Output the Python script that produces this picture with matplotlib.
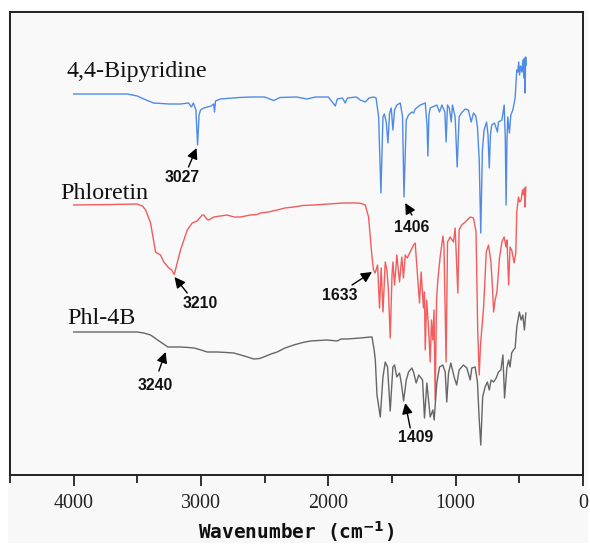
import matplotlib
matplotlib.use("Agg")
import matplotlib.pyplot as plt
from matplotlib.patches import Rectangle
from matplotlib.ticker import MultipleLocator

# ---- FTIR spectra (wavenumber in cm-1, stacked transmittance in a.u.) ----
bpy_wn = [4000, 3580, 3500, 3450, 3373, 3250, 3161, 3098, 3075, 3060, 3040, 3027, 3015,
          3004, 2978, 2920, 2900, 2894, 2886, 2847, 2800, 2700, 2600, 2500, 2429, 2380,
          2250, 2167, 2100, 2000, 1945, 1930, 1890, 1867, 1850, 1780, 1749, 1710, 1680,
          1645, 1625, 1605, 1587, 1571, 1560, 1545, 1532, 1519, 1506, 1493, 1480, 1462,
          1435, 1417, 1406, 1388, 1370, 1344, 1330, 1318, 1278, 1239, 1225, 1218, 1210,
          1200, 1148, 1127, 1108, 1085, 1075, 1064, 1050, 1035, 1025, 1004, 988, 973,
          955, 925, 900, 878, 860, 842, 829, 815, 803, 790, 777, 757, 746, 736, 727,
          717, 695, 672, 664, 637, 619, 610, 604, 597, 591, 578, 567, 551, 533, 520,
          512, 505, 498, 490, 480, 472, 465, 460, 455, 450, 447]
bpy_t = [381, 381, 379, 376, 372, 371, 371, 372, 368, 372, 365, 330, 360,
         365, 367, 369, 371, 363, 374, 376, 376.5, 377.5, 378, 378, 374.5, 377.5,
         378, 376, 378, 378, 369, 376, 377, 372, 377, 378, 375, 373, 377,
         378, 377, 358, 282, 358, 361, 353, 332, 362, 367, 345, 365, 370,
         372, 358, 278, 355, 360, 363, 362, 366, 370, 372, 350, 319, 360,
         367, 370, 363, 370, 363, 333, 370, 367, 353, 370, 358, 308, 358,
         362, 366, 365, 353, 362, 359, 348, 315, 242, 325, 345, 353, 340, 307, 340,
         350, 352, 343, 353, 355, 370, 335, 270, 335, 358, 342, 360, 365, 377, 405,
         403, 413, 400, 409, 403, 415, 397, 417, 382, 418, 410]

phl_wn = [4000, 3700, 3502, 3460, 3435, 3396, 3357, 3330, 3318, 3292, 3253, 3230, 3210,
          3161, 3108, 3069, 3030, 2990, 2978, 2955, 2939, 2900, 2850, 2795, 2740, 2690,
          2612, 2560, 2533, 2470, 2402, 2340, 2272, 2200, 2115, 2000, 1880, 1830, 1775,
          1740, 1710, 1684, 1657, 1645, 1633, 1620, 1613, 1598, 1585, 1571, 1553, 1540,
          1528, 1514, 1500, 1493, 1480, 1462, 1441, 1423, 1410, 1396, 1380, 1357, 1331,
          1318, 1300, 1284, 1271, 1253, 1245, 1239, 1228, 1212, 1200, 1190, 1180, 1170,
          1161, 1150, 1140, 1122, 1100, 1092, 1075, 1064, 1043, 1017, 1004, 983, 973,
          953, 925, 886, 860, 840, 827, 815, 805, 795, 781, 770, 760, 742, 723, 710,
          702, 690, 676, 656, 637, 619, 605, 597, 584, 573, 560, 541, 528, 520, 507,
          497, 486, 475, 468, 460, 455, 449]
phl_t = [270, 270.5, 271, 269, 265, 252, 223, 221, 220, 213, 207, 205, 200.5,
         225, 245, 252, 254, 260, 260, 256, 255, 258, 259, 260, 258, 258,
         260, 260.5, 262, 263, 265, 267, 268, 269.5, 270, 271, 272, 272, 272,
         271.5, 270, 258, 218, 205, 202, 207, 210, 167, 207, 163, 213, 205,
         185, 137, 200, 213, 190, 220, 193, 218, 197, 220, 217, 223, 230,
         232, 200, 172, 203, 167, 183, 125, 175, 145, 113, 155, 135, 165,
         75, 175, 195, 218, 239, 230, 113, 233, 238, 233, 247, 182, 245,
         250, 253, 258, 257, 243, 145, 100, 130, 145, 167, 195, 223, 230, 213, 185,
         163, 175, 183, 217, 233, 238, 228, 235, 190, 228, 225, 212, 222, 263, 278,
         273, 275, 285, 280, 287, 268, 288]

cpx_wn = [4000, 3502, 3450, 3396, 3318, 3260, 3240, 3200, 3161, 3100, 3055, 3000, 2951,
          2873, 2800, 2743, 2660, 2586, 2540, 2508, 2450, 2402, 2340, 2272, 2200, 2141,
          2010, 1932, 1900, 1853, 1800, 1749, 1671, 1657, 1640, 1631, 1618, 1592, 1571,
          1553, 1535, 1514, 1493, 1480, 1462, 1441, 1427, 1409, 1388, 1370, 1344, 1331,
          1310, 1290, 1278, 1260, 1245, 1226, 1200, 1179, 1169, 1148, 1127, 1101, 1082,
          1070, 1056, 1038, 1012, 992, 973, 939, 912, 886, 873, 847, 829, 816, 803,
          788, 769, 751, 736, 722, 702, 682, 664, 645, 629, 616, 598, 584, 573, 560,
          546, 533, 520, 500, 486, 473, 460, 449]
cpx_t = [143, 143, 142, 140, 133, 128, 128, 128, 128, 127.5, 127, 125, 123,
         123, 122.5, 122, 119, 116, 116.5, 118, 121, 123, 127, 130, 132.5, 134,
         135, 134, 136, 136, 136.5, 137, 138, 138, 125, 115, 80, 58, 98,
         113, 108, 64, 108, 110, 98, 102, 92, 74, 95, 103, 107, 103,
         92, 100, 98, 95, 57, 92, 58, 65, 55, 92, 108, 110, 103,
         73, 102, 112, 98, 90, 105, 110, 107, 95, 107, 108, 93, 58, 30,
         78, 88, 93, 85, 95, 93, 97, 103, 105, 120, 77, 107, 115, 108, 122,
         125, 127, 148, 163, 155, 160, 145, 162]

series_names = ["4,4-Bipyridine", "Phloretin", "Phl-4B"]
series_colors = ["#4f8be6", "#f25c5c", "#666666"]

# peak callouts: (label, arrow tip, arrow tail, text position) in data units
peak_labels = ["3027", "3210", "3240", "1406", "1633", "1409"]
peak_tips = [(3035, 327), (3208, 198), (3278, 123), (1396, 272), (1657, 203), (1396, 72)]
peak_tails = [(3098, 308), (3108, 182), (3331, 104), (1344, 260), (1814, 190), (1357, 47)]
peak_text = [(3145, 297), (3010, 172), (3357, 90), (1344, 248), (1911, 180), (1318, 38)]

name_pos = [(4055, 398), (4102, 275.7), (4047, 151)]

x_ticks = [4000, 3000, 2000, 1000, 0]

# ---- figure ----
W, H = 590, 546
fig = plt.figure(figsize=(W / 100, H / 100), dpi=100, facecolor="white")
fig.patches.append(Rectangle((8 / W, 1 - 543 / H), (588 - 8) / W, (543 - 10) / H,
                             transform=fig.transFigure, facecolor="#f8f8f8",
                             edgecolor="none", zorder=-10))
ax = fig.add_axes([10 / W, 1 - 475 / H, (583 - 10) / W, (475 - 12) / H])
ax.set_facecolor("#f9f9f9")

for wn, t, c in zip([bpy_wn, phl_wn, cpx_wn], [bpy_t, phl_t, cpx_t], series_colors):
    ax.plot(wn, t, color=c, lw=1.0, solid_joinstyle="round")

serif = ["Liberation Serif", "DejaVu Serif"]
for name, (x, y) in zip(series_names, name_pos):
    ax.text(x, y, name, family=serif, fontsize=17.3, ha="left", va="baseline",
            color="#111111")

for lab, tip, tail, tpos in zip(peak_labels, peak_tips, peak_tails, peak_text):
    ax.annotate("", xy=tip, xytext=tail,
                arrowprops=dict(arrowstyle="-|>", color="black", lw=1.0,
                                mutation_scale=16, shrinkA=0, shrinkB=0))
    ax.text(tpos[0], tpos[1], lab, family=["Liberation Sans", "DejaVu Sans"],
            fontsize=11.3, fontweight="bold", ha="center", va="center",
            color="#111111")

ax.set_xlim(4500, 0)
ax.set_ylim(0, 463)
ax.set_xticks(x_ticks)
ax.xaxis.set_minor_locator(MultipleLocator(500))
ax.set_xticklabels([str(v) for v in x_ticks], family=serif, fontsize=14.4)
ax.set_yticks([])
ax.tick_params(axis="x", which="major", direction="out", length=8, width=1.3,
               pad=6, colors="#222222")
ax.tick_params(axis="x", which="minor", direction="out", length=6, width=1.3,
               colors="#222222")
for sp in ax.spines.values():
    sp.set_linewidth(1.4)
    sp.set_color("#222222")

ax.set_xlabel("Wavenumber (cm$^{\\mathbf{-1}}$)", family=["DejaVu Sans Mono", "DejaVu Sans"],
              fontsize=14, fontweight="bold", color="#111111")
ax.xaxis.set_label_coords(0.5, -0.123)
ax.xaxis.label.set_va("center")

fig.savefig("out.png", dpi=100, facecolor=fig.get_facecolor())
